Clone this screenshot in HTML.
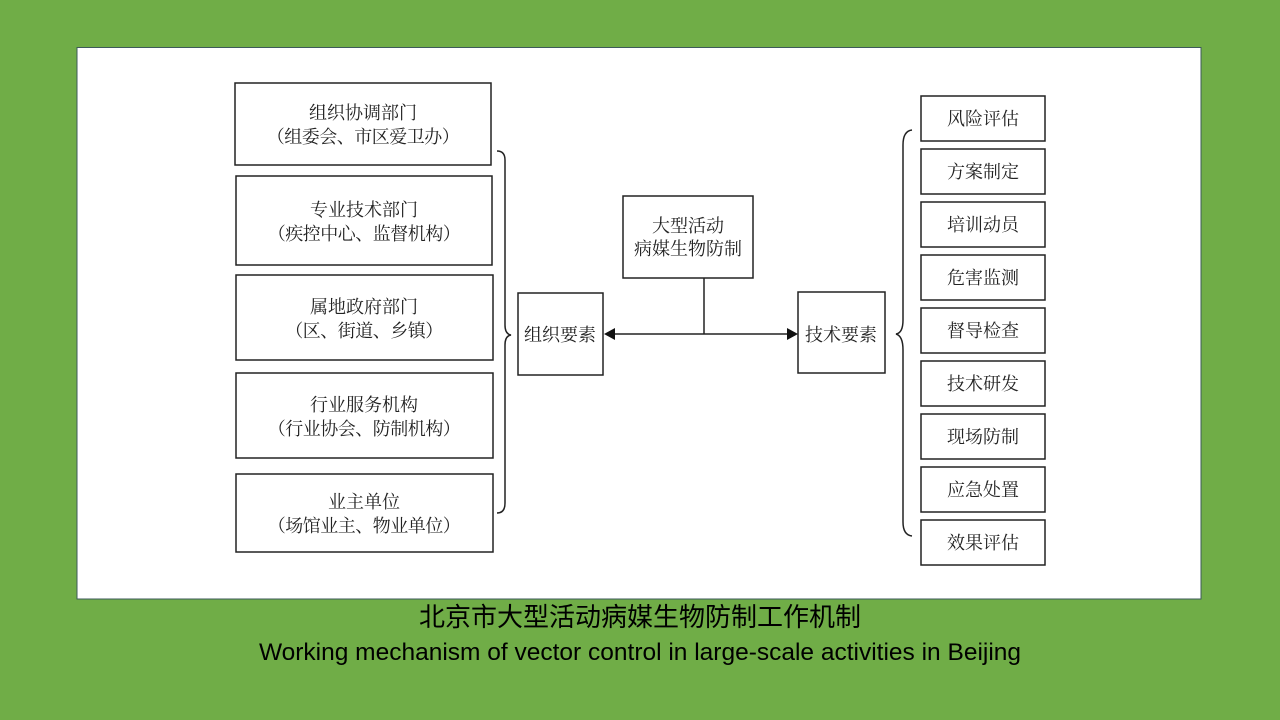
<!DOCTYPE html>
<html><head><meta charset="utf-8"><style>
html,body{margin:0;padding:0;}
body{width:1280px;height:720px;background:#70ad47;position:relative;overflow:hidden;}
svg{position:absolute;left:0;top:0;}
.t{font-family:"Liberation Serif","Noto Serif CJK SC",serif;font-size:18px;fill:#222;text-anchor:middle;}
.t2{font-family:"Liberation Serif","Noto Serif CJK SC",serif;font-size:18px;fill:#222;text-anchor:middle;letter-spacing:-0.5px;}
.cap1{position:absolute;left:0;width:1280px;top:599px;text-align:center;font-family:"Liberation Sans","Noto Sans CJK SC",sans-serif;font-size:26px;line-height:36px;color:#000;}
.cap2{position:absolute;left:0;width:1280px;top:638px;text-align:center;font-family:"Liberation Sans",sans-serif;font-size:24.5px;line-height:30px;color:#000;}
</style></head><body>
<svg width="1280" height="720" viewBox="0 0 1280 720">
<rect x="77" y="47.5" width="1124" height="551.5" fill="#fff" stroke="#3d5a5a" stroke-width="1"/>
<g fill="none" stroke="#222" stroke-width="1.5">
<rect x="235" y="83" width="256" height="82"/>
<rect x="236" y="176" width="256" height="89"/>
<rect x="236" y="275" width="257" height="85"/>
<rect x="236" y="373" width="257" height="85"/>
<rect x="236" y="474" width="257" height="78"/>
<rect x="518" y="293" width="85" height="82"/>
<rect x="623" y="196" width="130" height="82"/>
<rect x="798" y="292" width="87" height="81"/>
<rect x="921" y="96" width="124" height="45"/>
<rect x="921" y="149" width="124" height="45"/>
<rect x="921" y="202" width="124" height="45"/>
<rect x="921" y="255" width="124" height="45"/>
<rect x="921" y="308" width="124" height="45"/>
<rect x="921" y="361" width="124" height="45"/>
<rect x="921" y="414" width="124" height="45"/>
<rect x="921" y="467" width="124" height="45"/>
<rect x="921" y="520" width="124" height="45"/>
<path d="M497,151 Q505,151 505,160 L505,325 Q505,334 511,335 Q505,336 505,345 L505,503 Q505,513 497,513"/>
<path d="M912,130 Q903,131 903,145 L903,320 Q903,333 896,334 Q903,336 903,350 L903,522 Q903,535 912,536"/>
<path d="M704,278 L704,334 M612,334 L789,334"/>
</g>
<polygon points="604,334 615,328 615,340" fill="#111"/>
<polygon points="798,334 787,328 787,340" fill="#111"/>
<text class="t" x="363" y="119">组织协调部门</text>
<text class="t2" x="363" y="143">（组委会、市区爱卫办）</text>
<text class="t" x="364" y="216">专业技术部门</text>
<text class="t2" x="364" y="240">（疾控中心、监督机构）</text>
<text class="t" x="364" y="313">属地政府部门</text>
<text class="t2" x="364" y="337">（区、街道、乡镇）</text>
<text class="t" x="364" y="411">行业服务机构</text>
<text class="t2" x="364" y="435">（行业协会、防制机构）</text>
<text class="t" x="364" y="508">业主单位</text>
<text class="t2" x="364" y="532">（场馆业主、物业单位）</text>
<text class="t" x="560" y="341">组织要素</text>
<text class="t" x="688" y="232">大型活动</text>
<text class="t" x="688" y="255">病媒生物防制</text>
<text class="t" x="841" y="341">技术要素</text>
<text class="t" x="983" y="125">风险评估</text>
<text class="t" x="983" y="178">方案制定</text>
<text class="t" x="983" y="231">培训动员</text>
<text class="t" x="983" y="284">危害监测</text>
<text class="t" x="983" y="337">督导检查</text>
<text class="t" x="983" y="390">技术研发</text>
<text class="t" x="983" y="443">现场防制</text>
<text class="t" x="983" y="496">应急处置</text>
<text class="t" x="983" y="549">效果评估</text>
</svg>
<div class="cap1">北京市大型活动病媒生物防制工作机制</div>
<div class="cap2">Working mechanism of vector control in large-scale activities in Beijing</div>
</body></html>
